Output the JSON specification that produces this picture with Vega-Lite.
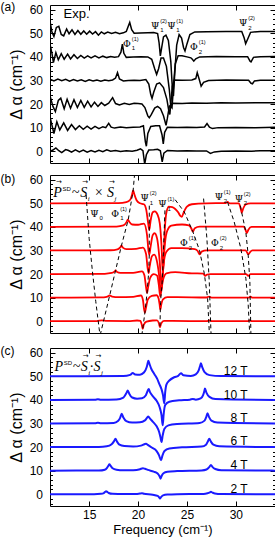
{
"$schema": "https://vega.github.io/schema/vega-lite/v6.json",
"padding": 0,
"background": "white",
"config": {
 "view": {"stroke": "black", "strokeWidth": 1},
 "axis": {"grid": false, "domain": false, "tickColor": "black", "tickWidth": 1, "labelFont": "Liberation Sans", "labelFontSize": 12, "labelColor": "black", "titleFont": "Liberation Sans", "titleFontWeight": "normal", "titleColor": "black"},
 "text": {"color": "black"}
},
"datasets": {
"A": [
{"s":0,"f":11,"v":0},{"s":0,"f":11.3,"v":0.5},{"s":0,"f":11.6,"v":1.4},{"s":0,"f":11.9,"v":0.2},{"s":0,"f":12.2,"v":-0.6},{"s":0,"f":12.6,"v":0.7},{"s":0,"f":12.9,"v":0.3},{"s":0,"f":13.2,"v":-0.4},{"s":0,"f":13.6,"v":0.6},{"s":0,"f":14.0,"v":-0.3},{"s":0,"f":14.4,"v":0.5},{"s":0,"f":14.8,"v":-0.4},{"s":0,"f":15.2,"v":0.3},{"s":0,"f":15.6,"v":-0.3},{"s":0,"f":16.0,"v":0.4},{"s":0,"f":16.4,"v":-0.2},{"s":0,"f":16.8,"v":0.6},{"s":0,"f":17.2,"v":0.0},{"s":0,"f":17.7,"v":0.3},{"s":0,"f":18.2,"v":-0.1},{"s":0,"f":18.8,"v":0.2},{"s":0,"f":19.4,"v":0.0},{"s":0,"f":19.9,"v":0.4},{"s":0,"f":20.25,"v":1.0},{"s":0,"f":20.5,"v":0.2},{"s":0,"f":20.68,"v":-5.5},{"s":0,"f":20.85,"v":-1.5},{"s":0,"f":21.1,"v":0.5},{"s":0,"f":21.6,"v":0.6},{"s":0,"f":22.0,"v":0.8},{"s":0,"f":22.28,"v":0.2},{"s":0,"f":22.47,"v":-4.5},{"s":0,"f":22.64,"v":-0.8},{"s":0,"f":23.0,"v":0.3},{"s":0,"f":24,"v":0.1},{"s":0,"f":25,"v":0.2},{"s":0,"f":26,"v":0.1},{"s":0,"f":27.0,"v":0.1},{"s":0,"f":27.4,"v":-0.9},{"s":0,"f":27.8,"v":-0.3},{"s":0,"f":28.5,"v":0.0},{"s":0,"f":30,"v":0.1},{"s":0,"f":31.6,"v":0.0},{"s":0,"f":32.5,"v":0.2},{"s":0,"f":34,"v":0.2},
{"s":1,"f":11,"v":14.5},{"s":1,"f":11.2,"v":11},{"s":1,"f":11.4,"v":7.5},{"s":1,"f":11.7,"v":12.5},{"s":1,"f":12.0,"v":9.0},{"s":1,"f":12.4,"v":12.0},{"s":1,"f":12.8,"v":8.8},{"s":1,"f":13.2,"v":11.3},{"s":1,"f":13.6,"v":9.2},{"s":1,"f":14.0,"v":10.8},{"s":1,"f":14.4,"v":9.3},{"s":1,"f":14.8,"v":10.6},{"s":1,"f":15.2,"v":9.4},{"s":1,"f":15.6,"v":10.5},{"s":1,"f":16.0,"v":9.6},{"s":1,"f":16.4,"v":10.4},{"s":1,"f":16.7,"v":10.0},{"s":1,"f":17.0,"v":11.8},{"s":1,"f":17.25,"v":10.2},{"s":1,"f":17.6,"v":9.8},{"s":1,"f":18.2,"v":10.3},{"s":1,"f":18.8,"v":9.9},{"s":1,"f":19.5,"v":10.2},{"s":1,"f":20.2,"v":10.3},{"s":1,"f":20.55,"v":10.8},{"s":1,"f":20.75,"v":4.0},{"s":1,"f":20.85,"v":2.1},{"s":1,"f":21.0,"v":7.5},{"s":1,"f":21.3,"v":10.5},{"s":1,"f":21.8,"v":10.8},{"s":1,"f":22.2,"v":10.8},{"s":1,"f":22.45,"v":7.0},{"s":1,"f":22.58,"v":3.1},{"s":1,"f":22.72,"v":8.0},{"s":1,"f":23.0,"v":10.2},{"s":1,"f":24,"v":10.1},{"s":1,"f":25,"v":10.2},{"s":1,"f":26,"v":10.1},{"s":1,"f":26.8,"v":10.3},{"s":1,"f":27.05,"v":11.7},{"s":1,"f":27.3,"v":10.2},{"s":1,"f":27.6,"v":9.6},{"s":1,"f":28.2,"v":10.0},{"s":1,"f":30,"v":10.1},{"s":1,"f":32,"v":10.0},{"s":1,"f":34,"v":10.2},
{"s":2,"f":11,"v":23.5},{"s":2,"f":11.3,"v":19.0},{"s":2,"f":11.55,"v":16.8},{"s":2,"f":11.85,"v":21.5},{"s":2,"f":12.1,"v":22.5},{"s":2,"f":12.45,"v":18.0},{"s":2,"f":12.75,"v":22.0},{"s":2,"f":13.1,"v":18.2},{"s":2,"f":13.45,"v":21.8},{"s":2,"f":13.8,"v":18.5},{"s":2,"f":14.15,"v":21.5},{"s":2,"f":14.5,"v":18.6},{"s":2,"f":14.85,"v":21.2},{"s":2,"f":15.2,"v":18.8},{"s":2,"f":15.55,"v":20.8},{"s":2,"f":15.9,"v":19.0},{"s":2,"f":16.25,"v":20.6},{"s":2,"f":16.6,"v":19.4},{"s":2,"f":17.0,"v":20.4},{"s":2,"f":17.4,"v":22.7},{"s":2,"f":17.7,"v":20.2},{"s":2,"f":18.1,"v":19.6},{"s":2,"f":18.6,"v":20.3},{"s":2,"f":19.1,"v":19.8},{"s":2,"f":19.6,"v":20.3},{"s":2,"f":20.0,"v":20.2},{"s":2,"f":20.4,"v":20.0},{"s":2,"f":20.7,"v":18.5},{"s":2,"f":21.0,"v":15.0},{"s":2,"f":21.15,"v":14.2},{"s":2,"f":21.35,"v":15.5},{"s":2,"f":21.7,"v":18.3},{"s":2,"f":22.0,"v":19.0},{"s":2,"f":22.3,"v":18.0},{"s":2,"f":22.6,"v":15.0},{"s":2,"f":22.86,"v":11.0},{"s":2,"f":23.0,"v":14.0},{"s":2,"f":23.2,"v":19.0},{"s":2,"f":23.5,"v":20.3},{"s":2,"f":24.5,"v":20.2},{"s":2,"f":25.5,"v":20.4},{"s":2,"f":27,"v":20.3},{"s":2,"f":28.5,"v":20.5},{"s":2,"f":30,"v":20.4},{"s":2,"f":32,"v":20.6},{"s":2,"f":34,"v":20.6},
{"s":3,"f":11,"v":30.5},{"s":3,"f":11.4,"v":29.8},{"s":3,"f":11.8,"v":30.6},{"s":3,"f":12.2,"v":29.9},{"s":3,"f":12.6,"v":30.5},{"s":3,"f":13.0,"v":29.7},{"s":3,"f":13.4,"v":30.4},{"s":3,"f":13.8,"v":29.8},{"s":3,"f":14.2,"v":30.3},{"s":3,"f":14.6,"v":29.6},{"s":3,"f":15.0,"v":30.3},{"s":3,"f":15.4,"v":29.8},{"s":3,"f":15.8,"v":30.2},{"s":3,"f":16.2,"v":29.7},{"s":3,"f":16.6,"v":30.2},{"s":3,"f":17.0,"v":29.9},{"s":3,"f":17.4,"v":30.2},{"s":3,"f":17.7,"v":31.0},{"s":3,"f":17.9,"v":33.3},{"s":3,"f":18.1,"v":30.6},{"s":3,"f":18.5,"v":29.8},{"s":3,"f":19.0,"v":30.0},{"s":3,"f":19.6,"v":30.1},{"s":3,"f":20.2,"v":30.0},{"s":3,"f":20.8,"v":30.4},{"s":3,"f":21.1,"v":28.5},{"s":3,"f":21.3,"v":24.0},{"s":3,"f":21.43,"v":22.4},{"s":3,"f":21.6,"v":25.0},{"s":3,"f":21.9,"v":28.5},{"s":3,"f":22.2,"v":29.0},{"s":3,"f":22.6,"v":27.0},{"s":3,"f":22.95,"v":22.0},{"s":3,"f":23.15,"v":17.0},{"s":3,"f":23.25,"v":15.6},{"s":3,"f":23.35,"v":20.0},{"s":3,"f":23.5,"v":27.5},{"s":3,"f":23.7,"v":30.2},{"s":3,"f":24.5,"v":30.1},{"s":3,"f":25.5,"v":30.2},{"s":3,"f":25.9,"v":30.8},{"s":3,"f":26.05,"v":33.3},{"s":3,"f":26.25,"v":30.5},{"s":3,"f":26.45,"v":27.6},{"s":3,"f":26.7,"v":29.2},{"s":3,"f":27.2,"v":30.0},{"s":3,"f":29,"v":30.2},{"s":3,"f":31.3,"v":30.1},{"s":3,"f":31.55,"v":28.8},{"s":3,"f":31.7,"v":28.6},{"s":3,"f":31.9,"v":29.8},{"s":3,"f":32.5,"v":30.1},{"s":3,"f":34,"v":30.1},
{"s":4,"f":11,"v":45.4},{"s":4,"f":11.2,"v":41.5},{"s":4,"f":11.35,"v":37.6},{"s":4,"f":11.6,"v":41.8},{"s":4,"f":11.85,"v":38.8},{"s":4,"f":12.15,"v":41.4},{"s":4,"f":12.45,"v":39.0},{"s":4,"f":12.8,"v":41.2},{"s":4,"f":13.1,"v":39.1},{"s":4,"f":13.45,"v":40.9},{"s":4,"f":13.8,"v":39.3},{"s":4,"f":14.15,"v":40.6},{"s":4,"f":14.5,"v":39.5},{"s":4,"f":14.85,"v":40.4},{"s":4,"f":15.2,"v":39.6},{"s":4,"f":15.6,"v":40.4},{"s":4,"f":16.0,"v":39.6},{"s":4,"f":16.4,"v":40.3},{"s":4,"f":16.8,"v":39.7},{"s":4,"f":17.2,"v":40.2},{"s":4,"f":17.6,"v":39.8},{"s":4,"f":18.0,"v":40.1},{"s":4,"f":18.25,"v":42.0},{"s":4,"f":18.4,"v":45.4},{"s":4,"f":18.55,"v":41.5},{"s":4,"f":18.8,"v":39.8},{"s":4,"f":19.5,"v":40.0},{"s":4,"f":20.3,"v":40.1},{"s":4,"f":21.0,"v":40.0},{"s":4,"f":21.4,"v":39.0},{"s":4,"f":21.7,"v":35.0},{"s":4,"f":21.9,"v":32.6},{"s":4,"f":22.1,"v":35.0},{"s":4,"f":22.35,"v":39.5},{"s":4,"f":22.6,"v":39.5},{"s":4,"f":22.9,"v":36.0},{"s":4,"f":23.2,"v":26.0},{"s":4,"f":23.35,"v":19.0},{"s":4,"f":23.47,"v":18.4},{"s":4,"f":23.6,"v":26.0},{"s":4,"f":23.8,"v":37.0},{"s":4,"f":24.1,"v":40.5},{"s":4,"f":24.5,"v":40.5},{"s":4,"f":25.0,"v":40.0},{"s":4,"f":25.4,"v":39.6},{"s":4,"f":25.55,"v":39.0},{"s":4,"f":25.7,"v":38.2},{"s":4,"f":25.9,"v":39.2},{"s":4,"f":26.3,"v":40.0},{"s":4,"f":28,"v":40.2},{"s":4,"f":30,"v":40.1},{"s":4,"f":31.2,"v":40.1},{"s":4,"f":31.45,"v":38.2},{"s":4,"f":31.55,"v":37.9},{"s":4,"f":31.8,"v":39.8},{"s":4,"f":32.5,"v":40.1},{"s":4,"f":34,"v":40.2},
{"s":5,"f":11,"v":55.0},{"s":5,"f":11.2,"v":50.5},{"s":5,"f":11.4,"v":48.6},{"s":5,"f":11.65,"v":52.5},{"s":5,"f":11.9,"v":53.0},{"s":5,"f":12.15,"v":49.5},{"s":5,"f":12.4,"v":48.9},{"s":5,"f":12.7,"v":51.8},{"s":5,"f":12.95,"v":49.8},{"s":5,"f":13.25,"v":51.5},{"s":5,"f":13.55,"v":49.5},{"s":5,"f":13.85,"v":51.2},{"s":5,"f":14.15,"v":49.6},{"s":5,"f":14.45,"v":51.0},{"s":5,"f":14.75,"v":49.6},{"s":5,"f":15.05,"v":50.9},{"s":5,"f":15.35,"v":49.7},{"s":5,"f":15.65,"v":50.7},{"s":5,"f":15.95,"v":49.2},{"s":5,"f":16.25,"v":50.6},{"s":5,"f":16.55,"v":49.8},{"s":5,"f":16.9,"v":50.5},{"s":5,"f":17.3,"v":49.9},{"s":5,"f":17.7,"v":50.4},{"s":5,"f":18.1,"v":49.8},{"s":5,"f":18.5,"v":50.2},{"s":5,"f":18.8,"v":50.8},{"s":5,"f":19.0,"v":53.0},{"s":5,"f":19.15,"v":54.6},{"s":5,"f":19.35,"v":51.5},{"s":5,"f":19.6,"v":50.0},{"s":5,"f":20.2,"v":50.1},{"s":5,"f":21.0,"v":50.2},{"s":5,"f":21.6,"v":50.3},{"s":5,"f":22.0,"v":49.9},{"s":5,"f":22.15,"v":46.0},{"s":5,"f":22.28,"v":40.4},{"s":5,"f":22.42,"v":44.0},{"s":5,"f":22.6,"v":48.5},{"s":5,"f":22.85,"v":49.2},{"s":5,"f":23.1,"v":47.0},{"s":5,"f":23.35,"v":38.0},{"s":5,"f":23.52,"v":26.0},{"s":5,"f":23.62,"v":23.4},{"s":5,"f":23.75,"v":33.0},{"s":5,"f":23.95,"v":45.0},{"s":5,"f":24.2,"v":49.5},{"s":5,"f":24.45,"v":48.0},{"s":5,"f":24.65,"v":44.0},{"s":5,"f":24.8,"v":42.5},{"s":5,"f":25.0,"v":45.5},{"s":5,"f":25.3,"v":49.5},{"s":5,"f":25.8,"v":50.6},{"s":5,"f":27,"v":50.7},{"s":5,"f":29,"v":50.8},{"s":5,"f":30.6,"v":50.8},{"s":5,"f":30.85,"v":48.0},{"s":5,"f":31.0,"v":45.6},{"s":5,"f":31.2,"v":47.5},{"s":5,"f":31.5,"v":50.4},{"s":5,"f":32.5,"v":50.8},{"s":5,"f":34,"v":50.8}
],
"B": [
{"s":0,"f":11,"v":0},{"s":0,"f":15.8,"v":0.05},{"s":0,"f":16.3,"v":0.35},{"s":0,"f":16.8,"v":0.1},{"s":0,"f":19.0,"v":0.05},{"s":0,"f":19.9,"v":0.3},{"s":0,"f":20.25,"v":0.1},{"s":0,"f":20.38,"v":-1.5},{"s":0,"f":20.48,"v":-3.2},{"s":0,"f":20.58,"v":-1.6},{"s":0,"f":20.85,"v":-0.2},{"s":0,"f":21.5,"v":0.3},{"s":0,"f":21.95,"v":0.35},{"s":0,"f":22.13,"v":-0.9},{"s":0,"f":22.24,"v":-2.6},{"s":0,"f":22.36,"v":-1.0},{"s":0,"f":22.65,"v":0.1},{"s":0,"f":23.5,"v":0.1},{"s":0,"f":27.0,"v":0.05},{"s":0,"f":27.3,"v":0.3},{"s":0,"f":27.55,"v":0.0},{"s":0,"f":31.2,"v":0.0},{"s":0,"f":31.42,"v":0.3},{"s":0,"f":31.65,"v":0.0},{"s":0,"f":34,"v":0},
{"s":1,"f":11,"v":10},{"s":1,"f":16.2,"v":10.1},{"s":1,"f":16.8,"v":10.35},{"s":1,"f":17.1,"v":10.9},{"s":1,"f":17.35,"v":10.45},{"s":1,"f":18,"v":10.2},{"s":1,"f":19.5,"v":10.35},{"s":1,"f":20.3,"v":10.9},{"s":1,"f":20.5,"v":9.0},{"s":1,"f":20.62,"v":5.0},{"s":1,"f":20.7,"v":3.6},{"s":1,"f":20.8,"v":5.5},{"s":1,"f":21.0,"v":9.2},{"s":1,"f":21.4,"v":10.7},{"s":1,"f":21.9,"v":11.0},{"s":1,"f":22.1,"v":9.6},{"s":1,"f":22.2,"v":7.2},{"s":1,"f":22.28,"v":4.9},{"s":1,"f":22.37,"v":7.0},{"s":1,"f":22.55,"v":9.3},{"s":1,"f":23.0,"v":10.2},{"s":1,"f":24,"v":10.2},{"s":1,"f":27.0,"v":10.05},{"s":1,"f":27.25,"v":10.45},{"s":1,"f":27.5,"v":10.0},{"s":1,"f":31.3,"v":10.0},{"s":1,"f":31.5,"v":10.4},{"s":1,"f":31.7,"v":10.0},{"s":1,"f":34,"v":10},
{"s":2,"f":11,"v":20},{"s":2,"f":16.6,"v":20.1},{"s":2,"f":17.3,"v":20.45},{"s":2,"f":17.58,"v":21.0},{"s":2,"f":17.7,"v":21.5},{"s":2,"f":17.85,"v":20.9},{"s":2,"f":18.2,"v":20.5},{"s":2,"f":19.5,"v":20.5},{"s":2,"f":20.4,"v":21.1},{"s":2,"f":20.65,"v":19.5},{"s":2,"f":20.8,"v":15.0},{"s":2,"f":20.92,"v":12.0},{"s":2,"f":21.03,"v":14.5},{"s":2,"f":21.25,"v":18.5},{"s":2,"f":21.6,"v":20.0},{"s":2,"f":21.95,"v":19.3},{"s":2,"f":22.12,"v":15.5},{"s":2,"f":22.27,"v":10.5},{"s":2,"f":22.38,"v":13.0},{"s":2,"f":22.55,"v":17.5},{"s":2,"f":22.9,"v":20.3},{"s":2,"f":23.8,"v":20.8},{"s":2,"f":25.5,"v":20.3},{"s":2,"f":26.65,"v":20.2},{"s":2,"f":26.87,"v":19.2},{"s":2,"f":27.05,"v":19.8},{"s":2,"f":27.4,"v":20.0},{"s":2,"f":31.05,"v":20.0},{"s":2,"f":31.27,"v":19.2},{"s":2,"f":31.5,"v":20.0},{"s":2,"f":34,"v":20},
{"s":3,"f":11,"v":30},{"s":3,"f":17.2,"v":30.1},{"s":3,"f":17.9,"v":30.5},{"s":3,"f":18.18,"v":31.3},{"s":3,"f":18.3,"v":32.0},{"s":3,"f":18.45,"v":31.2},{"s":3,"f":18.8,"v":30.6},{"s":3,"f":19.8,"v":30.7},{"s":3,"f":20.5,"v":31.2},{"s":3,"f":20.82,"v":28.5},{"s":3,"f":20.98,"v":22.5},{"s":3,"f":21.08,"v":20.4},{"s":3,"f":21.18,"v":23.0},{"s":3,"f":21.42,"v":27.5},{"s":3,"f":21.65,"v":28.2},{"s":3,"f":21.9,"v":26.0},{"s":3,"f":22.15,"v":19.5},{"s":3,"f":22.3,"v":13.5},{"s":3,"f":22.38,"v":12.7},{"s":3,"f":22.47,"v":17.0},{"s":3,"f":22.65,"v":25.5},{"s":3,"f":22.9,"v":29.5},{"s":3,"f":23.4,"v":31.0},{"s":3,"f":24.5,"v":31.0},{"s":3,"f":25.8,"v":30.6},{"s":3,"f":26.1,"v":29.8},{"s":3,"f":26.3,"v":28.3},{"s":3,"f":26.5,"v":29.5},{"s":3,"f":27.0,"v":30.0},{"s":3,"f":31.0,"v":30.0},{"s":3,"f":31.28,"v":28.3},{"s":3,"f":31.45,"v":29.3},{"s":3,"f":31.7,"v":30.0},{"s":3,"f":34,"v":30},
{"s":4,"f":11,"v":40},{"s":4,"f":17.8,"v":40.15},{"s":4,"f":18.5,"v":40.6},{"s":4,"f":18.82,"v":42.0},{"s":4,"f":18.95,"v":43.1},{"s":4,"f":19.1,"v":42.2},{"s":4,"f":19.4,"v":41.0},{"s":4,"f":20.0,"v":40.9},{"s":4,"f":20.6,"v":41.4},{"s":4,"f":20.92,"v":36.5},{"s":4,"f":21.08,"v":29.5},{"s":4,"f":21.15,"v":28.2},{"s":4,"f":21.28,"v":31.5},{"s":4,"f":21.5,"v":36.5},{"s":4,"f":21.7,"v":37.3},{"s":4,"f":21.95,"v":35.0},{"s":4,"f":22.2,"v":26.0},{"s":4,"f":22.37,"v":16.5},{"s":4,"f":22.45,"v":15.5},{"s":4,"f":22.55,"v":21.0},{"s":4,"f":22.75,"v":33.0},{"s":4,"f":23.0,"v":38.5},{"s":4,"f":23.4,"v":40.5},{"s":4,"f":24.5,"v":41.0},{"s":4,"f":25.2,"v":40.6},{"s":4,"f":25.45,"v":39.3},{"s":4,"f":25.6,"v":38.0},{"s":4,"f":25.8,"v":39.4},{"s":4,"f":26.3,"v":40.1},{"s":4,"f":30.8,"v":40.1},{"s":4,"f":31.0,"v":38.6},{"s":4,"f":31.12,"v":37.4},{"s":4,"f":31.28,"v":38.8},{"s":4,"f":31.6,"v":40.0},{"s":4,"f":34,"v":40},
{"s":5,"f":11,"v":50},{"s":5,"f":18.0,"v":50.1},{"s":5,"f":18.8,"v":50.5},{"s":5,"f":19.2,"v":51.5},{"s":5,"f":19.38,"v":53.5},{"s":5,"f":19.5,"v":55.5},{"s":5,"f":19.62,"v":53.8},{"s":5,"f":19.85,"v":51.3},{"s":5,"f":20.2,"v":50.0},{"s":5,"f":20.6,"v":49.6},{"s":5,"f":20.85,"v":47.0},{"s":5,"f":21.02,"v":42.0},{"s":5,"f":21.15,"v":38.7},{"s":5,"f":21.28,"v":42.5},{"s":5,"f":21.5,"v":46.2},{"s":5,"f":21.72,"v":46.6},{"s":5,"f":21.98,"v":45.3},{"s":5,"f":22.22,"v":41.5},{"s":5,"f":22.4,"v":32.0},{"s":5,"f":22.52,"v":21.0},{"s":5,"f":22.62,"v":27.0},{"s":5,"f":22.74,"v":39.0},{"s":5,"f":22.92,"v":46.5},{"s":5,"f":23.15,"v":48.6},{"s":5,"f":23.5,"v":48.4},{"s":5,"f":23.8,"v":47.6},{"s":5,"f":24.1,"v":46.2},{"s":5,"f":24.3,"v":44.8},{"s":5,"f":24.48,"v":44.3},{"s":5,"f":24.68,"v":46.3},{"s":5,"f":25.0,"v":48.6},{"s":5,"f":25.5,"v":49.6},{"s":5,"f":27.0,"v":50.0},{"s":5,"f":28.95,"v":50.1},{"s":5,"f":29.15,"v":50.6},{"s":5,"f":29.35,"v":50.0},{"s":5,"f":30.3,"v":50.0},{"s":5,"f":30.48,"v":48.0},{"s":5,"f":30.6,"v":46.0},{"s":5,"f":30.75,"v":47.8},{"s":5,"f":31.0,"v":49.5},{"s":5,"f":31.5,"v":50.0},{"s":5,"f":34,"v":50}
],
"C": [
{"s":0,"f":11,"v":0},{"s":0,"f":15.5,"v":0},{"s":0,"f":16.2,"v":0.15},{"s":0,"f":16.5,"v":0.5},{"s":0,"f":16.65,"v":1.0},{"s":0,"f":16.73,"v":1.3},{"s":0,"f":16.85,"v":1.0},{"s":0,"f":17.0,"v":0.5},{"s":0,"f":17.4,"v":0.15},{"s":0,"f":18.5,"v":0.05},{"s":0,"f":19.8,"v":0.1},{"s":0,"f":20.2,"v":0.3},{"s":0,"f":20.4,"v":0.4},{"s":0,"f":20.6,"v":0.2},{"s":0,"f":21.5,"v":-0.2},{"s":0,"f":22.0,"v":-0.7},{"s":0,"f":22.15,"v":-1.3},{"s":0,"f":22.24,"v":-1.8},{"s":0,"f":22.35,"v":-1.2},{"s":0,"f":22.55,"v":-0.5},{"s":0,"f":23.0,"v":-0.15},{"s":0,"f":24,"v":0},{"s":0,"f":26.7,"v":0.1},{"s":0,"f":27.1,"v":0.4},{"s":0,"f":27.35,"v":0.8},{"s":0,"f":27.45,"v":1.0},{"s":0,"f":27.6,"v":0.7},{"s":0,"f":27.85,"v":0.3},{"s":0,"f":28.5,"v":0.05},{"s":0,"f":34,"v":0},
{"s":1,"f":11,"v":10},{"s":1,"f":16,"v":10.05},{"s":1,"f":16.6,"v":10.4},{"s":1,"f":16.85,"v":11.3},{"s":1,"f":17.0,"v":12.3},{"s":1,"f":17.07,"v":12.7},{"s":1,"f":17.2,"v":12.0},{"s":1,"f":17.4,"v":11.0},{"s":1,"f":17.8,"v":10.4},{"s":1,"f":18.5,"v":10.15},{"s":1,"f":19.5,"v":10.2},{"s":1,"f":20.2,"v":10.6},{"s":1,"f":20.5,"v":11.0},{"s":1,"f":20.7,"v":10.8},{"s":1,"f":21.0,"v":10.3},{"s":1,"f":21.6,"v":9.6},{"s":1,"f":22.0,"v":8.8},{"s":1,"f":22.2,"v":7.6},{"s":1,"f":22.3,"v":6.6},{"s":1,"f":22.42,"v":7.8},{"s":1,"f":22.6,"v":8.9},{"s":1,"f":23.0,"v":9.5},{"s":1,"f":24,"v":9.8},{"s":1,"f":26.5,"v":10.1},{"s":1,"f":27.0,"v":10.5},{"s":1,"f":27.3,"v":11.6},{"s":1,"f":27.45,"v":12.4},{"s":1,"f":27.6,"v":11.6},{"s":1,"f":27.9,"v":10.7},{"s":1,"f":28.5,"v":10.2},{"s":1,"f":34,"v":10},
{"s":2,"f":11,"v":20},{"s":2,"f":16,"v":20.05},{"s":2,"f":16.8,"v":20.3},{"s":2,"f":17.3,"v":21.2},{"s":2,"f":17.55,"v":22.5},{"s":2,"f":17.69,"v":23.5},{"s":2,"f":17.85,"v":22.3},{"s":2,"f":18.1,"v":21.0},{"s":2,"f":18.6,"v":20.4},{"s":2,"f":19.5,"v":20.2},{"s":2,"f":20.3,"v":20.6},{"s":2,"f":20.65,"v":21.2},{"s":2,"f":20.82,"v":21.4},{"s":2,"f":21.0,"v":20.9},{"s":2,"f":21.4,"v":19.8},{"s":2,"f":21.9,"v":18.3},{"s":2,"f":22.15,"v":16.5},{"s":2,"f":22.35,"v":14.4},{"s":2,"f":22.5,"v":16.5},{"s":2,"f":22.7,"v":18.3},{"s":2,"f":23.2,"v":19.4},{"s":2,"f":24.5,"v":19.9},{"s":2,"f":26.5,"v":20.2},{"s":2,"f":26.95,"v":21.0},{"s":2,"f":27.15,"v":22.5},{"s":2,"f":27.28,"v":23.5},{"s":2,"f":27.45,"v":22.3},{"s":2,"f":27.7,"v":21.0},{"s":2,"f":28.3,"v":20.3},{"s":2,"f":34,"v":20},
{"s":3,"f":11,"v":30},{"s":3,"f":15.6,"v":30.05},{"s":3,"f":15.9,"v":30.3},{"s":3,"f":16.2,"v":30.05},{"s":3,"f":17.5,"v":30.2},{"s":3,"f":17.95,"v":31.0},{"s":3,"f":18.18,"v":32.5},{"s":3,"f":18.33,"v":34.1},{"s":3,"f":18.5,"v":32.5},{"s":3,"f":18.8,"v":31.0},{"s":3,"f":19.4,"v":30.4},{"s":3,"f":20.2,"v":30.5},{"s":3,"f":20.7,"v":31.3},{"s":3,"f":20.93,"v":32.5},{"s":3,"f":21.05,"v":33.0},{"s":3,"f":21.2,"v":32.2},{"s":3,"f":21.5,"v":30.8},{"s":3,"f":21.9,"v":28.8},{"s":3,"f":22.15,"v":26.5},{"s":3,"f":22.3,"v":24.0},{"s":3,"f":22.4,"v":22.1},{"s":3,"f":22.52,"v":25.0},{"s":3,"f":22.7,"v":27.8},{"s":3,"f":23.1,"v":29.2},{"s":3,"f":24,"v":29.8},{"s":3,"f":26.3,"v":30.2},{"s":3,"f":26.8,"v":31.2},{"s":3,"f":26.98,"v":32.8},{"s":3,"f":27.1,"v":34.3},{"s":3,"f":27.25,"v":32.8},{"s":3,"f":27.5,"v":31.2},{"s":3,"f":28.1,"v":30.4},{"s":3,"f":34,"v":30},
{"s":4,"f":11,"v":40},{"s":4,"f":15.6,"v":40.05},{"s":4,"f":15.9,"v":40.3},{"s":4,"f":16.2,"v":40.05},{"s":4,"f":17.8,"v":40.2},{"s":4,"f":18.5,"v":41.0},{"s":4,"f":18.8,"v":42.8},{"s":4,"f":18.95,"v":44.0},{"s":4,"f":19.1,"v":42.6},{"s":4,"f":19.4,"v":41.0},{"s":4,"f":19.9,"v":40.5},{"s":4,"f":20.4,"v":40.7},{"s":4,"f":20.8,"v":42.0},{"s":4,"f":20.98,"v":43.8},{"s":4,"f":21.09,"v":44.6},{"s":4,"f":21.22,"v":43.3},{"s":4,"f":21.5,"v":41.6},{"s":4,"f":21.9,"v":39.6},{"s":4,"f":22.2,"v":37.0},{"s":4,"f":22.4,"v":33.5},{"s":4,"f":22.52,"v":29.2},{"s":4,"f":22.62,"v":34.0},{"s":4,"f":22.78,"v":37.8},{"s":4,"f":23.2,"v":39.2},{"s":4,"f":24.2,"v":39.8},{"s":4,"f":25.3,"v":40.1},{"s":4,"f":25.6,"v":40.4},{"s":4,"f":25.9,"v":40.1},{"s":4,"f":26.4,"v":40.6},{"s":4,"f":26.65,"v":42.0},{"s":4,"f":26.78,"v":43.8},{"s":4,"f":26.84,"v":44.8},{"s":4,"f":27.0,"v":43.0},{"s":4,"f":27.3,"v":41.3},{"s":4,"f":27.9,"v":40.4},{"s":4,"f":34,"v":40},
{"s":5,"f":11,"v":50},{"s":5,"f":18.5,"v":50.1},{"s":5,"f":19.2,"v":50.6},{"s":5,"f":19.46,"v":51.4},{"s":5,"f":19.7,"v":50.8},{"s":5,"f":20.2,"v":50.7},{"s":5,"f":20.6,"v":51.6},{"s":5,"f":20.88,"v":53.8},{"s":5,"f":21.0,"v":55.8},{"s":5,"f":21.05,"v":56.6},{"s":5,"f":21.15,"v":55.5},{"s":5,"f":21.35,"v":53.2},{"s":5,"f":21.66,"v":51.0},{"s":5,"f":21.95,"v":49.0},{"s":5,"f":22.17,"v":46.8},{"s":5,"f":22.4,"v":44.5},{"s":5,"f":22.55,"v":42.0},{"s":5,"f":22.68,"v":38.5},{"s":5,"f":22.78,"v":43.5},{"s":5,"f":22.9,"v":46.5},{"s":5,"f":23.2,"v":48.2},{"s":5,"f":23.7,"v":49.6},{"s":5,"f":24.1,"v":50.2},{"s":5,"f":24.39,"v":51.3},{"s":5,"f":24.65,"v":50.4},{"s":5,"f":25.4,"v":50.1},{"s":5,"f":25.9,"v":50.8},{"s":5,"f":26.2,"v":52.5},{"s":5,"f":26.35,"v":54.5},{"s":5,"f":26.43,"v":55.5},{"s":5,"f":26.55,"v":54.0},{"s":5,"f":26.8,"v":51.8},{"s":5,"f":27.3,"v":50.5},{"s":5,"f":28.5,"v":50.1},{"s":5,"f":34,"v":50}
],
"D": [
{"k":"p0","i":0,"f":14.69,"v":53.5},{"k":"p0","i":1,"f":15.0,"v":35.1},{"k":"p0","i":2,"f":15.34,"v":21},{"k":"p0","i":3,"f":15.68,"v":8.3},{"k":"p0","i":4,"f":16.02,"v":-3},{"k":"p0","i":5,"f":16.1,"v":-5.5},
{"k":"f1","i":0,"f":19.65,"v":62.5},{"k":"f1","i":1,"f":19.5,"v":55.5},{"k":"f1","i":2,"f":19.0,"v":43.1},{"k":"f1","i":3,"f":18.3,"v":32.0},{"k":"f1","i":4,"f":17.7,"v":21.5},{"k":"f1","i":5,"f":17.1,"v":10.9},{"k":"f1","i":6,"f":16.5,"v":0.5},{"k":"f1","i":7,"f":16.15,"v":-5.5},
{"k":"p12","i":0,"f":21.15,"v":49.0},{"k":"p12","i":1,"f":21.15,"v":38.7},{"k":"p12","i":2,"f":21.15,"v":28.2},{"k":"p12","i":3,"f":21.08,"v":20.4},{"k":"p12","i":4,"f":20.92,"v":12.0},{"k":"p12","i":5,"f":20.7,"v":3.6},{"k":"p12","i":6,"f":20.48,"v":-3.2},{"k":"p12","i":7,"f":20.4,"v":-5.5},
{"k":"p11","i":0,"f":22.75,"v":47.0},{"k":"p11","i":1,"f":22.52,"v":21.0},{"k":"p11","i":2,"f":22.45,"v":15.5},{"k":"p11","i":3,"f":22.38,"v":12.7},{"k":"p11","i":4,"f":22.3,"v":8.0},{"k":"p11","i":5,"f":22.28,"v":4.9},{"k":"p11","i":6,"f":22.24,"v":-2.6},{"k":"p11","i":7,"f":22.22,"v":-5.5},
{"k":"f21","i":0,"f":23.8,"v":51.5},{"k":"f21","i":1,"f":24.73,"v":46.3},{"k":"f21","i":2,"f":25.6,"v":38.0},{"k":"f21","i":3,"f":26.28,"v":30.1},{"k":"f21","i":4,"f":26.77,"v":20.3},{"k":"f21","i":5,"f":27.11,"v":9.7},{"k":"f21","i":6,"f":27.28,"v":-4.3},{"k":"f21","i":7,"f":27.3,"v":-5.5},
{"k":"f22","i":0,"f":26.7,"v":52},{"k":"f22","i":1,"f":27.04,"v":35},{"k":"f22","i":2,"f":27.28,"v":16.8},{"k":"f22","i":3,"f":27.45,"v":-4.3},{"k":"f22","i":4,"f":27.47,"v":-5.5},
{"k":"p21","i":0,"f":29.15,"v":50.5},{"k":"p21","i":1,"f":29.83,"v":42.1},{"k":"p21","i":2,"f":30.51,"v":30.8},{"k":"p21","i":3,"f":31.02,"v":18.2},{"k":"p21","i":4,"f":31.26,"v":7},{"k":"p21","i":5,"f":31.4,"v":-4.3},{"k":"p21","i":6,"f":31.41,"v":-5.5},
{"k":"p22","i":0,"f":30.45,"v":49},{"k":"p22","i":1,"f":31.02,"v":37.8},{"k":"p22","i":2,"f":31.26,"v":28},{"k":"p22","i":3,"f":31.43,"v":16.8},{"k":"p22","i":4,"f":31.53,"v":-4.3},{"k":"p22","i":5,"f":31.54,"v":-5.5}
],
"LA": [
{"t":"Φ","sb":"1","sp":"(1)","f":18.85,"v":45.5},
{"t":"Ψ","sb":"1","sp":"(2)","f":21.75,"v":53.3},
{"t":"Ψ","sb":"1","sp":"(1)","f":23.4,"v":53.3},
{"t":"Φ","sb":"2","sp":"(1)","f":25.7,"v":44.0},
{"t":"Ψ","sb":"2","sp":"(2)","f":30.75,"v":54.2}
],
"LB": [
{"t":"Ψ","sb":"0","sp":"","f":15.55,"v":45.6},
{"t":"Φ","sb":"1","sp":"(1)","f":17.66,"v":45.6},
{"t":"Ψ","sb":"1","sp":"(2)","f":20.69,"v":52.2},
{"t":"Ψ","sb":"1","sp":"(1)","f":22.5,"v":49.6},
{"t":"Φ","sb":"2","sp":"(1)","f":24.68,"v":33.0},
{"t":"Φ","sb":"2","sp":"(2)","f":27.85,"v":33.0},
{"t":"Ψ","sb":"2","sp":"(1)","f":28.26,"v":52.7},
{"t":"Ψ","sb":"2","sp":"(2)","f":30.3,"v":52.0}
],
"PB": [
{"t":"P","sb":"","sp":"SD","ar":"→","f":11.77,"v":54.2},
{"t":"~","sb":"","sp":"","ar":"","f":13.6,"v":54.2},
{"t":"S","sb":"i","sp":"","ar":"→","f":14.45,"v":54.2},
{"t":"×","sb":"","sp":"","ar":"","f":15.99,"v":54.2},
{"t":"S","sb":"j","sp":"","ar":"→","f":17.18,"v":54.2}
],
"PC": [
{"t":"P","sb":"","sp":"SD","ar":"","f":11.9,"v":53.8},
{"t":"~","sb":"","sp":"","ar":"","f":13.7,"v":53.8},
{"t":"S","sb":"i","sp":"","ar":"→","f":14.5,"v":53.8},
{"t":"·","sb":"","sp":"","ar":"","f":15.25,"v":53.8},
{"t":"S","sb":"j","sp":"","ar":"→","f":15.8,"v":53.8}
]
},
"spacing": 12,
"bounds": "flush",
"vconcat": [
{
 "width": 225, "height": 158,
 "resolve": {"axis": {"x": "independent", "y": "independent"}},
 "layer": [
  {"data": {"name": "A"}, "mark": {"type": "line", "color": "black", "strokeWidth": 1.5, "clip": true},
   "encoding": {
    "x": {"field": "f", "type": "quantitative", "scale": {"domain": [11, 34], "nice": false, "zero": false}, "axis": {"orient": "bottom", "values": [15, 20, 25, 30], "labels": false, "title": null, "tickSize": -5}},
    "y": {"field": "v", "type": "quantitative", "scale": {"domain": [-5, 62], "nice": false, "zero": false}, "axis": {"orient": "left", "values": [0, 10, 20, 30, 40, 50, 60], "tickSize": -5, "labelPadding": 12.5, "labelFlush": false, "title": "Δ α (cm⁻¹)", "titleFontSize": 16, "titlePadding": 5}},
    "detail": {"field": "s"}}},
  {"data": {"values": [{"t": "(a)", "f": 5.94, "v": 61.2}]}, "mark": {"type": "text", "align": "left", "baseline": "middle", "font": "Liberation Sans", "fontSize": 12},
   "encoding": {
    "x": {"field": "f", "type": "quantitative", "scale": {"domain": [11, 34], "nice": false, "zero": false}, "axis": {"orient": "top", "values": [15, 20, 25, 30], "labels": false, "title": null, "tickSize": -5}},
    "y": {"field": "v", "type": "quantitative", "scale": {"domain": [-5, 62], "nice": false, "zero": false}, "axis": {"orient": "right", "values": [0, 10, 20, 30, 40, 50, 60], "labels": false, "title": null, "tickSize": -5}},
    "text": {"field": "t"}}},
  {"data": {"values": [{"t": "Exp.", "f": 12.38, "v": 58.2}]}, "mark": {"type": "text", "align": "left", "baseline": "middle", "font": "Liberation Sans", "fontSize": 13},
   "encoding": {
    "x": {"field": "f", "type": "quantitative", "scale": {"domain": [11, 34], "nice": false, "zero": false}, "axis": null},
    "y": {"field": "v", "type": "quantitative", "scale": {"domain": [-5, 62], "nice": false, "zero": false}, "axis": {"orient": "left", "values": [-4,-2,2,4,6,8,12,14,16,18,22,24,26,28,32,34,36,38,42,44,46,48,52,54,56,58], "labels": false, "title": null, "tickSize": -2.5}},
    "text": {"field": "t"}}},
  {"data": {"name": "LA"}, "mark": {"type": "text", "align": "center", "baseline": "middle", "font": "DejaVu Serif", "fontSize": 9.5},
   "encoding": {
    "x": {"field": "f", "type": "quantitative", "scale": {"domain": [11, 34], "nice": false, "zero": false}, "axis": null},
    "y": {"field": "v", "type": "quantitative", "scale": {"domain": [-5, 62], "nice": false, "zero": false}, "axis": {"orient": "right", "values": [-4,-2,2,4,6,8,12,14,16,18,22,24,26,28,32,34,36,38,42,44,46,48,52,54,56,58], "labels": false, "title": null, "tickSize": -2.5}},
    "text": {"field": "t"}}},
  {"data": {"name": "LA"}, "mark": {"type": "text", "align": "left", "baseline": "middle", "font": "Liberation Sans", "fontSize": 6, "dx": 5, "dy": 4.5},
   "encoding": {
    "x": {"field": "f", "type": "quantitative", "scale": {"domain": [11, 34], "nice": false, "zero": false}, "axis": null},
    "y": {"field": "v", "type": "quantitative", "scale": {"domain": [-5, 62], "nice": false, "zero": false}, "axis": null},
    "text": {"field": "sb"}}},
  {"data": {"name": "LA"}, "mark": {"type": "text", "align": "left", "baseline": "middle", "font": "Liberation Sans", "fontSize": 5.5, "dx": 5, "dy": -5},
   "encoding": {
    "x": {"field": "f", "type": "quantitative", "scale": {"domain": [11, 34], "nice": false, "zero": false}, "axis": null},
    "y": {"field": "v", "type": "quantitative", "scale": {"domain": [-5, 62], "nice": false, "zero": false}, "axis": null},
    "text": {"field": "sp"}}}
 ]
},
{
 "spacing": 15,
 "bounds": "flush",
 "vconcat": [
 {
 "width": 225, "height": 158,
 "resolve": {"axis": {"x": "independent", "y": "independent"}},
 "layer": [
  {"data": {"name": "B"}, "mark": {"type": "line", "color": "#ff0000", "strokeWidth": 1.8, "clip": true, "interpolate": "monotone"},
   "encoding": {
    "x": {"field": "f", "type": "quantitative", "scale": {"domain": [11, 34], "nice": false, "zero": false}, "axis": {"orient": "bottom", "values": [15, 20, 25, 30], "labels": false, "title": null, "tickSize": -5}},
    "y": {"field": "v", "type": "quantitative", "scale": {"domain": [-5, 62], "nice": false, "zero": false}, "axis": {"orient": "left", "values": [0, 10, 20, 30, 40, 50, 60], "tickSize": -5, "labelPadding": 12.5, "labelFlush": false, "title": "Δ α (cm⁻¹)", "titleFontSize": 16, "titlePadding": 5}},
    "detail": {"field": "s"}}},
  {"data": {"name": "D"}, "mark": {"type": "line", "color": "black", "strokeWidth": 1, "strokeDash": [4, 3], "clip": true},
   "encoding": {
    "x": {"field": "f", "type": "quantitative", "scale": {"domain": [11, 34], "nice": false, "zero": false}, "axis": null},
    "y": {"field": "v", "type": "quantitative", "scale": {"domain": [-5, 62], "nice": false, "zero": false}, "axis": null},
    "detail": {"field": "k"}, "order": {"field": "i"}}},
  {"data": {"values": [{"t": "(b)", "f": 5.94, "v": 60.2}]}, "mark": {"type": "text", "align": "left", "baseline": "middle", "font": "Liberation Sans", "fontSize": 12},
   "encoding": {
    "x": {"field": "f", "type": "quantitative", "scale": {"domain": [11, 34], "nice": false, "zero": false}, "axis": {"orient": "top", "values": [15, 20, 25, 30], "labels": false, "title": null, "tickSize": -5}},
    "y": {"field": "v", "type": "quantitative", "scale": {"domain": [-5, 62], "nice": false, "zero": false}, "axis": {"orient": "right", "values": [0, 10, 20, 30, 40, 50, 60], "labels": false, "title": null, "tickSize": -5}},
    "text": {"field": "t"}}},
  {"data": {"name": "PB"}, "mark": {"type": "text", "align": "center", "baseline": "middle", "font": "Liberation Serif", "fontStyle": "italic", "fontSize": 14},
   "encoding": {
    "x": {"field": "f", "type": "quantitative", "scale": {"domain": [11, 34], "nice": false, "zero": false}, "axis": null},
    "y": {"field": "v", "type": "quantitative", "scale": {"domain": [-5, 62], "nice": false, "zero": false}, "axis": {"orient": "left", "values": [-4,-2,2,4,6,8,12,14,16,18,22,24,26,28,32,34,36,38,42,44,46,48,52,54,56,58], "labels": false, "title": null, "tickSize": -2.5}},
    "text": {"field": "t"}}},
  {"data": {"name": "PB"}, "mark": {"type": "text", "align": "left", "baseline": "middle", "font": "Liberation Serif", "fontStyle": "italic", "fontSize": 7, "dx": 4, "dy": 5.5},
   "encoding": {
    "x": {"field": "f", "type": "quantitative", "scale": {"domain": [11, 34], "nice": false, "zero": false}, "axis": null},
    "y": {"field": "v", "type": "quantitative", "scale": {"domain": [-5, 62], "nice": false, "zero": false}, "axis": null},
    "text": {"field": "sb"}}},
  {"data": {"name": "PB"}, "mark": {"type": "text", "align": "left", "baseline": "middle", "font": "Liberation Sans", "fontSize": 6, "dx": 5, "dy": -4.5},
   "encoding": {
    "x": {"field": "f", "type": "quantitative", "scale": {"domain": [11, 34], "nice": false, "zero": false}, "axis": null},
    "y": {"field": "v", "type": "quantitative", "scale": {"domain": [-5, 62], "nice": false, "zero": false}, "axis": null},
    "text": {"field": "sp"}}},
  {"data": {"name": "PB"}, "mark": {"type": "text", "align": "center", "baseline": "middle", "font": "DejaVu Sans", "fontSize": 7, "dx": 1.5, "dy": -11},
   "encoding": {
    "x": {"field": "f", "type": "quantitative", "scale": {"domain": [11, 34], "nice": false, "zero": false}, "axis": null},
    "y": {"field": "v", "type": "quantitative", "scale": {"domain": [-5, 62], "nice": false, "zero": false}, "axis": null},
    "text": {"field": "ar"}}},
  {"data": {"name": "LB"}, "mark": {"type": "text", "align": "center", "baseline": "middle", "font": "DejaVu Serif", "fontSize": 9.5},
   "encoding": {
    "x": {"field": "f", "type": "quantitative", "scale": {"domain": [11, 34], "nice": false, "zero": false}, "axis": null},
    "y": {"field": "v", "type": "quantitative", "scale": {"domain": [-5, 62], "nice": false, "zero": false}, "axis": {"orient": "right", "values": [-4,-2,2,4,6,8,12,14,16,18,22,24,26,28,32,34,36,38,42,44,46,48,52,54,56,58], "labels": false, "title": null, "tickSize": -2.5}},
    "text": {"field": "t"}}},
  {"data": {"name": "LB"}, "mark": {"type": "text", "align": "left", "baseline": "middle", "font": "Liberation Sans", "fontSize": 6, "dx": 5, "dy": 4.5},
   "encoding": {
    "x": {"field": "f", "type": "quantitative", "scale": {"domain": [11, 34], "nice": false, "zero": false}, "axis": null},
    "y": {"field": "v", "type": "quantitative", "scale": {"domain": [-5, 62], "nice": false, "zero": false}, "axis": null},
    "text": {"field": "sb"}}},
  {"data": {"name": "LB"}, "mark": {"type": "text", "align": "left", "baseline": "middle", "font": "Liberation Sans", "fontSize": 5.5, "dx": 5, "dy": -5},
   "encoding": {
    "x": {"field": "f", "type": "quantitative", "scale": {"domain": [11, 34], "nice": false, "zero": false}, "axis": null},
    "y": {"field": "v", "type": "quantitative", "scale": {"domain": [-5, 62], "nice": false, "zero": false}, "axis": null},
    "text": {"field": "sp"}}}
 ]
 },
 {
 "width": 225, "height": 158,
 "resolve": {"axis": {"x": "independent", "y": "independent"}},
 "layer": [
  {"data": {"name": "C"}, "mark": {"type": "line", "color": "#1a1aff", "strokeWidth": 2, "clip": true, "interpolate": "monotone"},
   "encoding": {
    "x": {"field": "f", "type": "quantitative", "scale": {"domain": [11, 34], "nice": false, "zero": false}, "axis": {"orient": "bottom", "values": [15, 20, 25, 30], "tickSize": -5, "labelPadding": 8.5, "labelFlush": false, "title": "Frequency (cm⁻¹)", "titleFontSize": 13, "titlePadding": 3}},
    "y": {"field": "v", "type": "quantitative", "scale": {"domain": [-5, 62], "nice": false, "zero": false}, "axis": {"orient": "left", "values": [0, 10, 20, 30, 40, 50, 60], "tickSize": -5, "labelPadding": 12.5, "labelFlush": false, "title": "Δ α (cm⁻¹)", "titleFontSize": 16, "titlePadding": 5}},
    "detail": {"field": "s"}}},
  {"data": {"values": [{"t": "(c)", "f": 5.94, "v": 60.6}]}, "mark": {"type": "text", "align": "left", "baseline": "middle", "font": "Liberation Sans", "fontSize": 12},
   "encoding": {
    "x": {"field": "f", "type": "quantitative", "scale": {"domain": [11, 34], "nice": false, "zero": false}, "axis": {"orient": "top", "values": [15, 20, 25, 30], "labels": false, "title": null, "tickSize": -5}},
    "y": {"field": "v", "type": "quantitative", "scale": {"domain": [-5, 62], "nice": false, "zero": false}, "axis": {"orient": "right", "values": [0, 10, 20, 30, 40, 50, 60], "labels": false, "title": null, "tickSize": -5}},
    "text": {"field": "t"}}},
  {"data": {"name": "PC"}, "mark": {"type": "text", "align": "center", "baseline": "middle", "font": "Liberation Serif", "fontStyle": "italic", "fontSize": 14},
   "encoding": {
    "x": {"field": "f", "type": "quantitative", "scale": {"domain": [11, 34], "nice": false, "zero": false}, "axis": null},
    "y": {"field": "v", "type": "quantitative", "scale": {"domain": [-5, 62], "nice": false, "zero": false}, "axis": {"orient": "left", "values": [-4,-2,2,4,6,8,12,14,16,18,22,24,26,28,32,34,36,38,42,44,46,48,52,54,56,58], "labels": false, "title": null, "tickSize": -2.5}},
    "text": {"field": "t"}}},
  {"data": {"name": "PC"}, "mark": {"type": "text", "align": "left", "baseline": "middle", "font": "Liberation Serif", "fontStyle": "italic", "fontSize": 7, "dx": 4, "dy": 5.5},
   "encoding": {
    "x": {"field": "f", "type": "quantitative", "scale": {"domain": [11, 34], "nice": false, "zero": false}, "axis": null},
    "y": {"field": "v", "type": "quantitative", "scale": {"domain": [-5, 62], "nice": false, "zero": false}, "axis": null},
    "text": {"field": "sb"}}},
  {"data": {"name": "PC"}, "mark": {"type": "text", "align": "left", "baseline": "middle", "font": "Liberation Sans", "fontSize": 6, "dx": 5, "dy": -4.5},
   "encoding": {
    "x": {"field": "f", "type": "quantitative", "scale": {"domain": [11, 34], "nice": false, "zero": false}, "axis": null},
    "y": {"field": "v", "type": "quantitative", "scale": {"domain": [-5, 62], "nice": false, "zero": false}, "axis": null},
    "text": {"field": "sp"}}},
  {"data": {"name": "PC"}, "mark": {"type": "text", "align": "center", "baseline": "middle", "font": "DejaVu Sans", "fontSize": 7, "dx": 1.5, "dy": -11},
   "encoding": {
    "x": {"field": "f", "type": "quantitative", "scale": {"domain": [11, 34], "nice": false, "zero": false}, "axis": null},
    "y": {"field": "v", "type": "quantitative", "scale": {"domain": [-5, 62], "nice": false, "zero": false}, "axis": null},
    "text": {"field": "ar"}}},
  {"data": {"values": [{"t": "12 T", "f": 31.2, "v": 52.2}, {"t": "10 T", "f": 31.2, "v": 42.2}, {"t": "8 T", "f": 31.2, "v": 32.3}, {"t": "6 T", "f": 31.2, "v": 22.4}, {"t": "4 T", "f": 31.2, "v": 12.3}, {"t": "2 T", "f": 31.2, "v": 2.4}]},
   "mark": {"type": "text", "align": "right", "baseline": "middle", "font": "Liberation Sans", "fontSize": 12},
   "encoding": {
    "x": {"field": "f", "type": "quantitative", "scale": {"domain": [11, 34], "nice": false, "zero": false}, "axis": null},
    "y": {"field": "v", "type": "quantitative", "scale": {"domain": [-5, 62], "nice": false, "zero": false}, "axis": {"orient": "right", "values": [-4,-2,2,4,6,8,12,14,16,18,22,24,26,28,32,34,36,38,42,44,46,48,52,54,56,58], "labels": false, "title": null, "tickSize": -2.5}},
    "text": {"field": "t"}}}
 ]
 }
 ]
}
]
}
